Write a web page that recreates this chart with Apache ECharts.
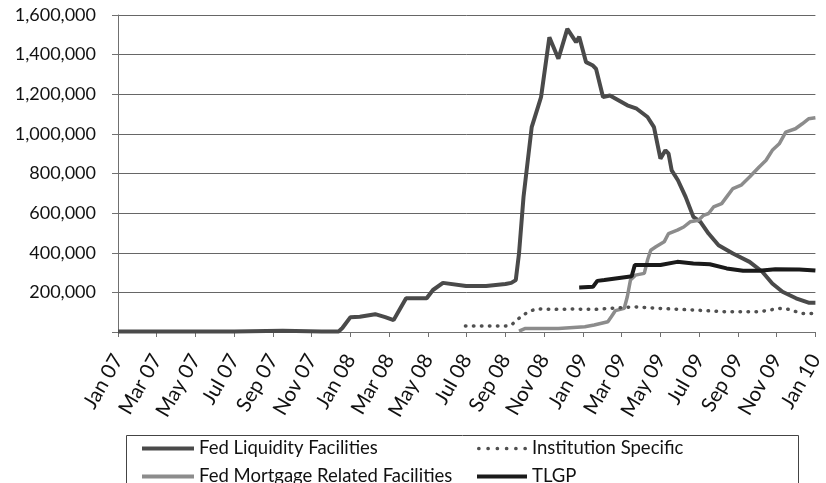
<!DOCTYPE html>
<html>
<head>
<meta charset="utf-8">
<script src="https://cdn.jsdelivr.net/npm/echarts@6/dist/echarts.min.js"></script>
<style>
  html, body { margin: 0; padding: 0; background: #ffffff; }
  #chart { width: 826px; height: 483px; }
</style>
</head>
<body>
<div id="chart"></div>
<script>
// Outstanding balances by programme, weekly-ish readings (date, value)
const fedLiquidity = [
  ['2007-01-01', 2000], ['2007-04-01', 3000], ['2007-07-01', 2000], ['2007-09-16', 6000],
  ['2007-11-16', 2000], ['2007-12-13', 3000], ['2007-12-19', 20000], ['2008-01-01', 75000],
  ['2008-01-16', 77000], ['2008-02-09', 90000], ['2008-02-24', 75000], ['2008-03-08', 60000],
  ['2008-03-17', 110000], ['2008-03-28', 170000], ['2008-04-29', 170000], ['2008-05-09', 212000],
  ['2008-05-25', 248000], ['2008-06-30', 232000], ['2008-08-01', 232000], ['2008-09-01', 242000],
  ['2008-09-10', 248000], ['2008-09-17', 262000], ['2008-09-22', 396000], ['2008-09-29', 682000],
  ['2008-10-12', 1034000], ['2008-10-22', 1135000], ['2008-10-27', 1186000], ['2008-11-09', 1488000],
  ['2008-11-23', 1379000], ['2008-12-07', 1530000], ['2008-12-21', 1463000], ['2008-12-26', 1490000],
  ['2009-01-06', 1362000], ['2009-01-17', 1345000], ['2009-01-22', 1328000], ['2009-02-02', 1186000],
  ['2009-02-12', 1194000], ['2009-03-10', 1144000], ['2009-03-25', 1127000], ['2009-04-11', 1085000],
  ['2009-04-21', 1034000], ['2009-05-01', 875000], ['2009-05-09', 917000], ['2009-05-14', 900000],
  ['2009-05-19', 816000], ['2009-05-29', 766000], ['2009-06-10', 682000], ['2009-06-22', 581000],
  ['2009-07-03', 556000], ['2009-07-16', 497000], ['2009-08-01', 438000], ['2009-08-24', 396000],
  ['2009-09-19', 354000], ['2009-10-09', 304000], ['2009-10-25', 245000], ['2009-11-10', 203000],
  ['2009-12-01', 170000], ['2009-12-21', 148000], ['2010-01-01', 148000]
];

const fedMortgage = [
  ['2008-09-22', 4000], ['2008-10-02', 18000], ['2008-11-23', 18000], ['2009-01-04', 27000],
  ['2009-01-19', 35000], ['2009-02-09', 52000], ['2009-02-14', 77000], ['2009-02-20', 108000],
  ['2009-03-05', 119000], ['2009-03-10', 178000], ['2009-03-15', 262000], ['2009-03-23', 287000],
  ['2009-04-06', 296000], ['2009-04-11', 363000], ['2009-04-16', 413000], ['2009-04-24', 430000],
  ['2009-05-07', 455000], ['2009-05-14', 497000], ['2009-05-28', 514000], ['2009-06-07', 530000],
  ['2009-06-17', 556000], ['2009-06-30', 564000], ['2009-07-08', 589000], ['2009-07-16', 598000],
  ['2009-07-24', 631000], ['2009-08-06', 648000], ['2009-08-14', 682000], ['2009-08-24', 724000],
  ['2009-09-06', 741000], ['2009-09-19', 782000], ['2009-10-04', 833000], ['2009-10-15', 867000],
  ['2009-10-25', 917000], ['2009-11-05', 950000], ['2009-11-15', 1009000], ['2009-11-30', 1026000],
  ['2009-12-11', 1051000], ['2009-12-21', 1076000], ['2010-01-01', 1081000]
];

const institutionSpecific = [
  ['2008-06-29', 30000], ['2008-07-16', 30000], ['2008-08-16', 30000], ['2008-09-01', 30000],
  ['2008-09-10', 35000], ['2008-09-20', 64000], ['2008-09-30', 89000], ['2008-10-10', 106000],
  ['2008-10-20', 117000], ['2008-11-16', 114000], ['2008-12-16', 116000], ['2009-01-19', 114000],
  ['2009-03-21', 127000], ['2009-05-01', 119000], ['2009-06-22', 111000], ['2009-08-14', 102000],
  ['2009-10-04', 102000], ['2009-11-05', 119000], ['2009-11-20', 114000], ['2009-12-10', 94000],
  ['2010-01-01', 94000]
];

const tlgp = [
  ['2008-12-26', 225000], ['2009-01-17', 228000], ['2009-01-24', 258000], ['2009-02-04', 262000],
  ['2009-02-20', 270000], ['2009-03-12', 279000], ['2009-03-17', 281000], ['2009-03-22', 338000],
  ['2009-05-01', 338000], ['2009-05-28', 354000], ['2009-06-22', 346000], ['2009-07-18', 342000],
  ['2009-08-14', 321000], ['2009-09-09', 309000], ['2009-10-04', 309000], ['2009-10-30', 317000],
  ['2009-12-06', 316000], ['2010-01-01', 310000]
];

const seriesNames = ['Fed Liquidity Facilities', 'Fed Mortgage Related Facilities', 'Institution Specific', 'TLGP'];

// Date axis labels, one every two months from Jan 07
const tickLabels = [
  'Jan 07', 'Mar 07', 'May 07', 'Jul 07', 'Sep 07', 'Nov 07',
  'Jan 08', 'Mar 08', 'May 08', 'Jul 08', 'Sep 08', 'Nov 08',
  'Jan 09', 'Mar 09', 'May 09', 'Jul 09', 'Sep 09', 'Nov 09', 'Jan 10'
];

const yTicks = { min: 0, max: 1600000, step: 200000 };

// Convert a date string into months elapsed since 1 Jan 2007 (fractional)
function monthsSince2007(s) {
  const [y, m, d] = s.split('-').map(Number);
  const days = new Date(y, m, 0).getDate();
  return (y - 2007) * 12 + (m - 1) + (d - 1) / days;
}
const toXY = arr => arr.map(([date, v]) => [monthsSince2007(date), v]);

// Legend swatches: a solid bar for the lines, a row of dots for the dotted series
const solidIcon = 'path://M0,0H52V4H0Z';
const dotIcon = 'path://' + [2, 10, 18, 26, 34, 42]
  .map(cx => `M${cx - 1.6},2a1.6,1.6 0 1,0 3.2,0a1.6,1.6 0 1,0 -3.2,0`).join('');

const FONT = 'Lato';
const chart = echarts.init(document.getElementById('chart'), null, { renderer: 'canvas' });

const lineBase = { type: 'line', showSymbol: false, symbol: 'none', smooth: false, animation: false, z: 3 };
const legendText = { fontFamily: FONT, fontSize: 18.5, color: '#111', lineHeight: 18 };

chart.setOption({
  animation: false,
  backgroundColor: '#ffffff',
  grid: { left: 118, right: 3, top: 15, bottom: 151, containLabel: false },
  xAxis: {
    type: 'value',
    min: 0,
    max: (tickLabels.length - 1) * 2,
    interval: 2,
    axisLine: { show: true, lineStyle: { color: '#707070', width: 1 } },
    axisTick: { show: true, length: 5, lineStyle: { color: '#707070' } },
    splitLine: { show: false },
    axisLabel: {
      rotate: 60,
      margin: 24,
      color: '#111',
      fontFamily: FONT,
      fontSize: 20.5,
      showMinLabel: true,
      showMaxLabel: true,
      formatter: v => tickLabels[Math.round(v / 2)] || ''
    }
  },
  yAxis: {
    type: 'value',
    min: yTicks.min,
    max: yTicks.max,
    interval: yTicks.step,
    axisLine: { show: true, lineStyle: { color: '#707070', width: 1 } },
    axisTick: { show: true, length: 6, lineStyle: { color: '#707070' } },
    splitLine: { show: true, lineStyle: { color: '#666666', width: 1 } },
    axisLabel: {
      margin: 22,
      color: '#111',
      fontFamily: FONT,
      fontSize: 18,
      formatter: v => v === 0 ? '' : v.toLocaleString('en-US')
    }
  },
  legend: [
    {
      data: [
        { name: seriesNames[0], icon: solidIcon },
        { name: seriesNames[1], icon: solidIcon }
      ],
      orient: 'vertical',
      left: 142, top: 439, height: 80,
      padding: 0,
      itemWidth: 52, itemHeight: 4, itemGap: 9,
      textStyle: legendText
    },
    {
      data: [
        { name: seriesNames[2], icon: dotIcon },
        { name: seriesNames[3], icon: solidIcon }
      ],
      orient: 'vertical',
      left: 477, top: 439, height: 80,
      padding: 0,
      itemWidth: 50, itemHeight: 4, itemGap: 9,
      textStyle: legendText
    }
  ],
  graphic: [
    {
      type: 'rect',
      shape: { x: 126.5, y: 435.5, width: 672, height: 60 },
      style: { fill: 'none', stroke: '#444', lineWidth: 1 },
      silent: true, z: 0
    }
  ],
  series: [
    Object.assign({}, lineBase, {
      name: seriesNames[0], data: toXY(fedLiquidity),
      itemStyle: { color: '#4a4a4a' },
      lineStyle: { color: '#4a4a4a', width: 4 }
    }),
    Object.assign({}, lineBase, {
      name: seriesNames[1], data: toXY(fedMortgage),
      itemStyle: { color: '#8c8c8c' },
      lineStyle: { color: '#8c8c8c', width: 3.5 }
    }),
    Object.assign({}, lineBase, {
      name: seriesNames[2], data: toXY(institutionSpecific),
      itemStyle: { color: '#505050' },
      lineStyle: { color: '#505050', width: 3.5, type: [0.5, 7.5], cap: 'round' }
    }),
    Object.assign({}, lineBase, {
      name: seriesNames[3], data: toXY(tlgp),
      itemStyle: { color: '#1a1a1a' },
      lineStyle: { color: '#1a1a1a', width: 4 }
    })
  ]
});
</script>
</body>
</html>
